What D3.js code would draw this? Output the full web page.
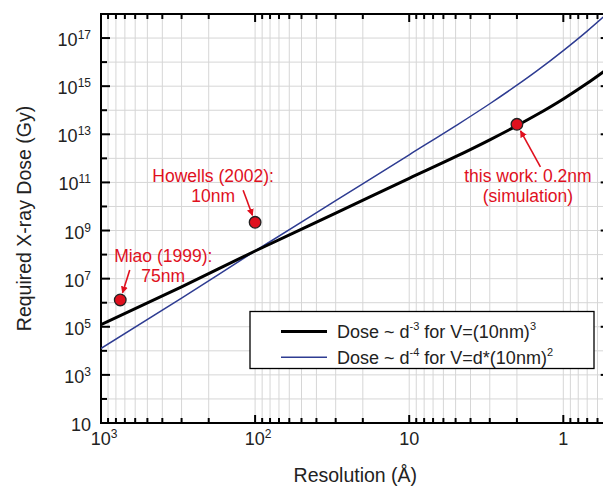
<!DOCTYPE html>
<html><head><meta charset="utf-8">
<script src="https://cdn.jsdelivr.net/npm/d3@7"></script>
<style>
body{margin:0;background:#fff;}
text{font-family:"Liberation Sans",Arial,sans-serif;}
</style></head>
<body><svg id="c" width="603" height="488"></svg>
<script>
// ---- data ----
const resolution = [1000, 300, 100, 30, 10, 5, 3, 2, 1.5, 1, 0.7, 0.5];           // Å
const doseCube   = [1.23e5, 4.57e6, 1.41e8, 5.25e9, 1.48e11, 1.17e12, 5.89e12, 2.29e13, 6.31e13, 2.95e14, 1.32e15, 6.17e15]; // d^-3, V=(10nm)^3
const doseSlab   = [1.26e4, 1.55e6, 1.41e8, 1.74e10, 1.41e12, 2.24e13, 1.86e14, 1.10e15, 4.12e15, 3.02e16, 1.95e17, 1.29e18]; // d^-4, V=d*(10nm)^2
const pointRes   = [750, 100, 2];
const pointDose  = [1.3e6, 2.2e9, 2.6e13];
const pointLabel = [["Miao (1999):", "75nm"], ["Howells (2002):", "10nm"], ["this work: 0.2nm", "(simulation)"]];
const xTickVals  = [1000, 100, 10, 1];
const xTickText  = [["10","3"], ["10","2"], ["10",""], ["1",""]];
const yTickVals  = [10, 1e3, 1e5, 1e7, 1e9, 1e11, 1e13, 1e15, 1e17];
const yTickText  = [["10",""], ["10","3"], ["10","5"], ["10","7"], ["10","9"], ["10","11"], ["10","13"], ["10","15"], ["10","17"]];
const legendItems = [["Dose ~ d", "-3", " for V=(10nm)", "3"], ["Dose ~ d", "-4", " for V=d*(10nm)", "2"]];

// ---- layout ----
const L = 101, R = 609.7, T = 14, B = 423;
const red = "#e0101e", blue = "#2e3c92";
const svg = d3.select("#c");
const x = d3.scaleLog().domain([1000, 0.5]).range([L, R]);
const y = d3.scaleLog().domain([10, 1e18]).range([B, T]);

svg.append("defs").append("clipPath").attr("id", "clip")
  .append("rect").attr("x", L).attr("y", T).attr("width", R - L).attr("height", B - T);
const mk = svg.select("defs").append("marker").attr("id", "ah")
  .attr("viewBox", "0 0 10 10").attr("refX", 9).attr("refY", 5)
  .attr("markerWidth", 7).attr("markerHeight", 7).attr("markerUnits", "userSpaceOnUse")
  .attr("orient", "auto");
mk.append("path").attr("d", "M0,0L10,5L0,10z").attr("fill", red);

// grid
const xMinor = [];
for (let e = -1; e < 3; e++) for (let m = 1; m < 10; m++) { const v = m * Math.pow(10, e); if (v >= 0.5 && v <= 1000) xMinor.push(v); }
const yDec = d3.range(1, 19).map(e => Math.pow(10, e));
const g = svg.append("g");
g.selectAll(".gx").data(xMinor).join("line")
  .attr("x1", d => x(d)).attr("x2", d => x(d)).attr("y1", T).attr("y2", B)
  .attr("stroke", "#d6d6d6").attr("stroke-width", 1);
g.selectAll(".gy").data(yDec).join("line")
  .attr("x1", L).attr("x2", R).attr("y1", d => y(d)).attr("y2", d => y(d))
  .attr("stroke", "#d6d6d6").attr("stroke-width", 1);

// axes (ticks inward)
const xMajor = new Set([1000, 100, 10, 1]);
function xt(d) { return xMajor.has(d) ? 8 : 5; }
const ax = svg.append("g");
ax.selectAll(".tb").data(xMinor).join("line")
  .attr("x1", d => x(d)).attr("x2", d => x(d)).attr("y1", B).attr("y2", d => B - xt(d))
  .attr("stroke", "#000").attr("stroke-width", 2);
ax.selectAll(".tt").data(xMinor).join("line")
  .attr("x1", d => x(d)).attr("x2", d => x(d)).attr("y1", T).attr("y2", d => T + xt(d))
  .attr("stroke", "#000").attr("stroke-width", 2);
const yAll = d3.range(1, 18).map(e => Math.pow(10, e));
function yl(d) { return Math.round(Math.log10(d)) % 2 === 1 ? 9 : 6; }
ax.selectAll(".tl").data(yAll).join("line")
  .attr("x1", L).attr("x2", d => L + yl(d)).attr("y1", d => y(d)).attr("y2", d => y(d))
  .attr("stroke", "#000").attr("stroke-width", 2);
ax.selectAll(".tr").data(yAll).join("line")
  .attr("x1", R).attr("x2", d => R - yl(d)).attr("y1", d => y(d)).attr("y2", d => y(d))
  .attr("stroke", "#000").attr("stroke-width", 2);
ax.append("rect").attr("x", L).attr("y", T).attr("width", R - L).attr("height", B - T)
  .attr("fill", "none").attr("stroke", "#000").attr("stroke-width", 2);

// tick labels
xTickVals.forEach((v, i) => {
  const t = svg.append("text").attr("x", x(v) + (xTickText[i][1] ? 3 : 0)).attr("y", 445)
    .attr("text-anchor", "middle").attr("font-size", 18).attr("fill", "#222");
  t.append("tspan").text(xTickText[i][0]);
  if (xTickText[i][1]) t.append("tspan").attr("dy", -7).attr("font-size", 12).text(xTickText[i][1]);
});
yTickVals.forEach((v, i) => {
  const t = svg.append("text").attr("x", 91).attr("y", y(v) + 8)
    .attr("text-anchor", "end").attr("font-size", 18).attr("fill", "#222");
  t.append("tspan").text(yTickText[i][0]);
  if (yTickText[i][1]) t.append("tspan").attr("dy", -7).attr("font-size", 12).text(yTickText[i][1]);
});

// axis titles
svg.append("text").attr("x", (L + R) / 2).attr("y", 482).attr("text-anchor", "middle")
  .attr("font-size", 19.5).attr("fill", "#222").text("Resolution (Å)");
svg.append("text").attr("transform", `translate(31,${(T + B) / 2}) rotate(-90)`).attr("text-anchor", "middle")
  .attr("font-size", 19.5).attr("fill", "#222").text("Required X-ray Dose (Gy)");

// curves
const line = d3.line().curve(d3.curveMonotoneX);
const cg = svg.append("g").attr("clip-path", "url(#clip)");
cg.append("path").attr("d", line(resolution.map((r, i) => [x(r), y(doseSlab[i])])))
  .attr("fill", "none").attr("stroke", blue).attr("stroke-width", 1.5);
cg.append("path").attr("d", line(resolution.map((r, i) => [x(r), y(doseCube[i])])))
  .attr("fill", "none").attr("stroke", "#000").attr("stroke-width", 3);

// annotations
const textPos = [[43, -38], [-42, -40], [11, 58]];
const arrowFrom = [[9.5, -30], [-12, -32], [23.5, 42.5]];
pointRes.forEach((r, i) => {
  const cx = x(r), cy = y(pointDose[i]);
  const [dx, dy] = arrowFrom[i];
  const len = Math.hypot(dx, dy);
  svg.append("line").attr("x1", cx + dx).attr("y1", cy + dy)
    .attr("x2", cx + dx * 7.5 / len).attr("y2", cy + dy * 7.5 / len)
    .attr("stroke", red).attr("stroke-width", 1.6).attr("marker-end", "url(#ah)");
  const t = svg.append("text").attr("text-anchor", "middle").attr("font-size", 17.5).attr("fill", red);
  pointLabel[i].forEach((s, j) => t.append("tspan").attr("x", cx + textPos[i][0])
    .attr("y", cy + textPos[i][1] + j * 20).text(s));
  svg.append("circle").attr("cx", cx).attr("cy", cy).attr("r", 5.8)
    .attr("fill", red).attr("stroke", "#222").attr("stroke-width", 1.3);
});

// legend
const lg = svg.append("g");
lg.append("rect").attr("x", 250).attr("y", 311.5).attr("width", 344).attr("height", 57)
  .attr("fill", "#fff").attr("stroke", "#000").attr("stroke-width", 1.3);
const lColors = ["#000", blue], lWidths = [3, 1.5];
legendItems.forEach((it, i) => {
  const ly = 331.5 + i * 25.7;
  lg.append("line").attr("x1", 281).attr("x2", 327).attr("y1", ly).attr("y2", ly)
    .attr("stroke", lColors[i]).attr("stroke-width", lWidths[i]);
  const t = lg.append("text").attr("x", 337).attr("y", ly + 6.5).attr("font-size", 18).attr("fill", "#222");
  t.append("tspan").text(it[0]);
  t.append("tspan").attr("dy", -8).attr("font-size", 11).text(it[1]);
  t.append("tspan").attr("dy", 8).text(it[2]);
  t.append("tspan").attr("dy", -8).attr("font-size", 11).text(it[3]);
});
</script></body></html>
